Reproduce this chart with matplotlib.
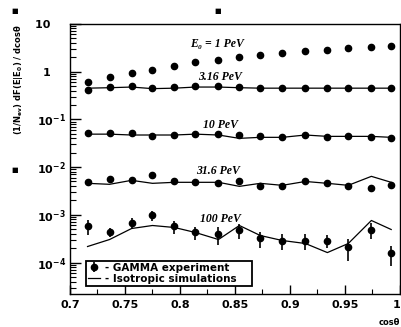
import math
import matplotlib
matplotlib.use("Agg")
import matplotlib.pyplot as plt
from matplotlib.ticker import LogLocator, FixedLocator, MultipleLocator, FuncFormatter

# bin centres in cos(theta)
cos_theta = [0.716, 0.736, 0.756, 0.775, 0.795, 0.814, 0.835, 0.854,
             0.873, 0.893, 0.914, 0.934, 0.953, 0.974, 0.992]

# GAMMA experiment points
exp_1pev = [0.605, 0.76, 0.95, 1.10, 1.31, 1.57, 1.75, 2.00, 2.23, 2.49,
            2.71, 2.84, 3.09, 3.33, 3.50]
exp_3pev = [0.41, 0.475, 0.50, 0.45, 0.475, 0.50, 0.50, 0.475, 0.45, 0.45,
            0.45, 0.45, 0.45, 0.45, 0.45]
exp_10pev = [0.051, 0.051, 0.051, 0.044, 0.047, 0.049, 0.049, 0.047, 0.044,
             0.042, 0.047, 0.042, 0.044, 0.042, 0.040]
exp_31pev = [0.0048, 0.00555, 0.00528, 0.0067, 0.0050, 0.0048, 0.00457, 0.0050,
             0.00395, 0.00395, 0.0050, 0.00457, 0.00395, 0.0036, 0.00415]
exp_100pev = [5.7e-4, 4.3e-4, 6.9e-4, 9.7e-4, 5.7e-4, 4.3e-4, 3.9e-4, 4.7e-4,
              3.2e-4, 2.9e-4, 2.9e-4, 2.9e-4, 2.1e-4, 4.9e-4, 1.55e-4]
rel_err_100pev = [0.35, 0.22, 0.22, 0.22, 0.29, 0.32, 0.41, 0.35,
                  0.38, 0.38, 0.38, 0.29, 0.49, 0.35, 0.44]

# isotropic simulations
sim_3pev = [0.45, 0.46, 0.475, 0.44, 0.45, 0.475, 0.475, 0.46, 0.45, 0.45,
            0.45, 0.45, 0.45, 0.45, 0.45]
sim_10pev = [0.049, 0.049, 0.047, 0.047, 0.047, 0.049, 0.047, 0.040, 0.042,
             0.042, 0.047, 0.044, 0.044, 0.044, 0.042]
sim_31pev = [0.00457, 0.00436, 0.00528, 0.00457, 0.0048, 0.0048, 0.0048, 0.00395,
             0.00457, 0.00415, 0.0050, 0.00457, 0.00415, 0.0064, 0.0048]
sim_100pev = [2.17e-4, 3.04e-4, 5.17e-4, 5.98e-4, 5.43e-4, 4.27e-4, 3.04e-4, 5.98e-4,
              3.69e-4, 2.90e-4, 2.51e-4, 1.62e-4, 2.51e-4, 7.62e-4, 4.93e-4]

energy_labels = ["E\u2080 = 1 PeV", "3.16 PeV", "10 PeV", "31.6 PeV", "100 PeV"]
label_pos = [(0.364, 0.926), (0.388, 0.804), (0.403, 0.626), (0.382, 0.456), (0.394, 0.278)]

plt.rcParams['font.family'] = ['DejaVu Sans']
plt.rcParams['mathtext.default'] = 'bf'

fig = plt.figure(figsize=(4.02, 3.27), dpi=100)
ax = fig.add_axes([0.174, 0.101, 0.821, 0.826])

ms = 4.5
ax.plot(cos_theta, exp_1pev, 'o', color='black', ms=ms)
for sim in [sim_3pev, sim_10pev, sim_31pev]:
    ax.plot(cos_theta, sim, '-', color='black', lw=0.9)
ax.plot(cos_theta, sim_100pev, '-', color='black', lw=0.9, label='- Isotropic simulations')
for exp in [exp_3pev, exp_10pev, exp_31pev]:
    ax.plot(cos_theta, exp, 'o', color='black', ms=ms)
err = [v * r for v, r in zip(exp_100pev, rel_err_100pev)]
ax.errorbar(cos_theta, exp_100pev, yerr=err, fmt='o', color='black', ms=ms,
            elinewidth=1.2, capsize=0, label='- GAMMA experiment')

for txt, (px, py) in zip(energy_labels, label_pos):
    ax.text(px, py, txt, transform=ax.transAxes, ha='left', va='center',
            fontsize=8.5, fontweight='bold', fontstyle='italic',
            family=['Liberation Serif', 'DejaVu Serif'])

ax.set_yscale('log')
ax.set_xlim(0.7, 1.0)
ax.set_ylim(2.2e-5, 10)

def ylab(v, pos):
    if abs(v - 10) < 1e-9:
        return '10    '
    if abs(v - 1) < 1e-9:
        return '1    '
    e = int(round(math.log10(v)))
    return r'$\mathbf{10^{%d}}$' % e

ax.yaxis.set_major_locator(FixedLocator([1e-4, 1e-3, 1e-2, 1e-1, 1, 10]))
ax.yaxis.set_major_formatter(FuncFormatter(ylab))
ax.yaxis.set_minor_locator(LogLocator(base=10, subs=range(2, 10), numticks=20))
ax.xaxis.set_major_locator(FixedLocator([0.7, 0.75, 0.8, 0.85, 0.9, 0.95, 1.0]))
ax.xaxis.set_minor_locator(MultipleLocator(0.025))
ax.xaxis.set_major_formatter(FuncFormatter(lambda v, p: ('%g' % round(v, 3))))

ax.tick_params(axis='both', which='both', direction='in', top=False, right=False)
ax.tick_params(axis='y', which='major', length=8, width=1, labelsize=8, pad=3)
ax.tick_params(axis='y', which='minor', length=4, width=0.8)
ax.tick_params(axis='x', which='major', length=6.5, width=1, labelsize=8, pad=4)
ax.tick_params(axis='x', which='minor', length=3.5, width=0.8)
for sp in ax.spines.values():
    sp.set_linewidth(1.0)

ax.set_ylabel("(1/N$_{ev}$) dF(E|E$_0$) / dcos\u03b8", fontsize=6, fontweight='bold',
              family=['Liberation Sans Narrow', 'DejaVu Sans'], loc='top')
ax.yaxis.set_label_coords(-0.135, 1.0)
ax.set_xlabel("cos\u03b8", fontsize=6, fontweight='bold', loc='right', labelpad=6)

fig.canvas.draw()
for t in ax.xaxis.get_major_ticks() + ax.yaxis.get_major_ticks():
    t.label1.set_fontweight('bold')
for t in ax.xaxis.get_major_ticks():
    if abs(t.get_loc() - 1.0) < 1e-6:
        t.label1.set_horizontalalignment('right')

handles, labels = ax.get_legend_handles_labels()
leg = ax.legend(handles[::-1], labels[::-1], loc='lower left',
                bbox_to_anchor=(0.048, 0.03, 0.503, 0.115), mode='expand',
                borderaxespad=0, fancybox=False, edgecolor='black', framealpha=1,
                prop={'size': 7.5, 'weight': 'bold'}, handlelength=1.2,
                handletextpad=0.4, borderpad=0.2, labelspacing=0.1)
leg.get_frame().set_linewidth(1.3)

# stray marks from the original canvas
for fx, fy in [(15, 11), (15, 170), (218, 11)]:
    fig.text(fx / 402, 1 - fy / 327, '\u25a0', fontsize=5, ha='center', va='center')

fig.savefig('out.png', dpi=100)
